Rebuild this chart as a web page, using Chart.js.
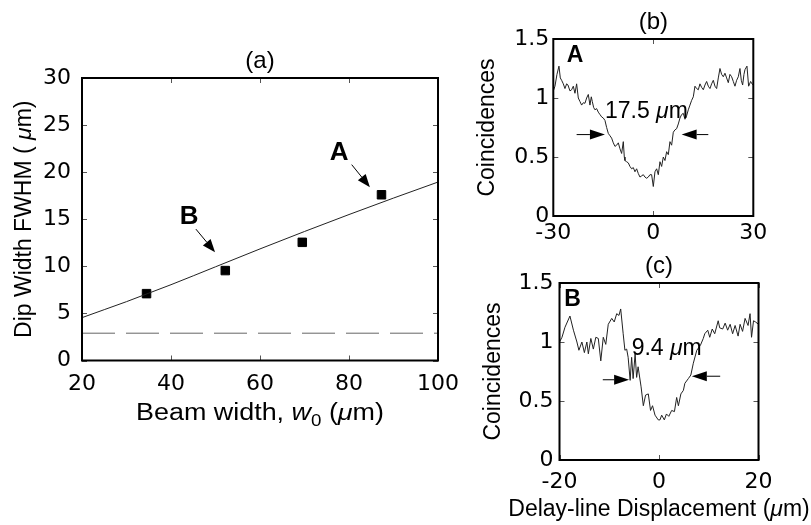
<!DOCTYPE html>
<html><head><meta charset="utf-8">
<script src="https://cdn.jsdelivr.net/npm/chart.js@4.4.1/dist/chart.umd.min.js"></script>
<style>
html,body{margin:0;padding:0;background:#fff;}
#wrap{position:relative;width:811px;height:525px;overflow:hidden;background:#fff;}
canvas{position:absolute;}
</style></head><body>
<div id="wrap">
<canvas id="ca" width="470" height="440" style="left:0;top:0"></canvas>
<canvas id="cb" width="341" height="250" style="left:470px;top:0"></canvas>
<canvas id="cc" width="341" height="275" style="left:470px;top:250px"></canvas>
</div>
<script>
// ---------- data: panel (a) ----------
const beamWidth = [34.5, 52.2, 69.5, 87.3];
const dipWidth  = [7.1, 9.55, 12.55, 17.6];
const fitBeamWidth = [20, 25, 30, 35, 40, 50, 60, 70, 80, 90, 100];
const fitDipWidth  = [4.55, 5.4, 6.25, 7.15, 8.05, 9.95, 11.85, 13.7, 15.5, 17.25, 18.95];
const limitBeamWidth = [20, 100];
const limitDipWidth  = [2.9, 2.9];
const aXTicks = [20, 40, 60, 80, 100];
const aYTicks = [0, 5, 10, 15, 20, 25, 30];

// ---------- data: panel (b), case A ----------
const bDelay = [-30,-29.5,-28.9,-28.3,-27.9,-27.5,-27,-26.5,-26,-25.6,-25,-24.5,-24,-23.5,-23,-22.5,-22,-21.5,-21,-20.5,-20,-19.5,-19,-18.6,-18.3,-17.9,-17.5,-17,-16.5,-16,-15.5,-15,-14.5,-14,-13.5,-13,-12.5,-12,-11.5,-11,-10.5,-10,-9.5,-9,-8.7,-8.5,-8,-7.5,-7,-6.5,-6,-5.5,-5,-4.5,-4,-3.5,-3,-2.5,-2,-1.5,-1,-0.5,0,0.5,1,1.5,2,2.5,3,3.5,4,4.5,5,5.5,6,6.5,7,7.5,8,8.5,9,9.5,10,10.5,11,11.5,12,12.5,13,13.5,14,14.5,15,15.5,16,16.5,17,17.5,18,18.5,19,19.5,20,20.5,21,21.5,22,22.5,23,23.5,24,24.5,25,25.5,26,26.4,26.8,27.2,27.5,28.1,28.6,29.2,29.6,30];
const bCoinc = [1.06,1.10,1.20,1.27,1.17,1.15,1.12,1.08,1.12,1.11,1.06,1.07,1.10,1.04,1.12,1.00,0.97,0.94,0.96,0.955,1.00,1.03,0.94,1.01,0.97,0.92,0.90,0.91,0.88,0.86,0.84,0.83,0.81,0.75,0.70,0.68,0.66,0.62,0.59,0.60,0.62,0.57,0.53,0.63,0.50,0.47,0.46,0.45,0.42,0.40,0.41,0.375,0.40,0.36,0.33,0.34,0.35,0.33,0.32,0.33,0.35,0.35,0.25,0.375,0.40,0.35,0.46,0.42,0.50,0.47,0.545,0.52,0.63,0.60,0.71,0.73,0.74,0.78,0.83,0.86,0.87,0.82,0.85,0.90,0.94,0.98,1.01,1.10,1.08,1.07,1.12,1.09,1.07,1.11,1.14,1.10,1.08,1.12,1.15,1.10,1.08,1.17,1.25,1.20,1.18,1.21,1.17,1.13,1.20,1.18,1.14,1.10,1.15,1.18,1.25,1.15,1.11,1.20,1.24,1.27,1.10,1.14,1.12,1.11];
const bXTicks = [-30, 0, 30];
const bYTicks = [0, 0.5, 1, 1.5];

// ---------- data: panel (c), case B ----------
const cDelay = [-20,-19.5,-18.9,-17.9,-17.2,-16.5,-16.1,-15.5,-15,-14.5,-14.2,-13.7,-13.2,-12.7,-12.2,-11.7,-11.2,-10.7,-10.2,-9.5,-9,-8.5,-8.05,-7.7,-7.2,-6.85,-6.5,-6.2,-5.8,-5.5,-5.2,-4.8,-4.5,-4.2,-3.6,-3.15,-2.7,-2.15,-1.7,-1.3,-0.8,-0.15,0.2,0.54,1.07,1.5,1.97,2.55,3.1,3.55,3.9,4.4,4.9,5.2,5.9,6.4,6.9,7.6,8.3,8.9,9.2,9.8,10.2,10.7,11.2,11.9,12.2,12.8,13.3,13.8,14.3,14.8,15.3,15.9,16.3,16.8,17.3,17.9,18.3,18.6,19,19.4,20];
const cCoinc = [1.00,1.04,1.125,1.22,1.10,1.00,0.93,1.00,0.91,1.00,0.90,1.03,0.94,1.04,1.03,0.84,1.04,0.98,1.15,1.20,1.17,1.24,1.225,1.28,1.07,0.93,0.94,0.87,0.675,0.87,0.69,0.90,0.70,0.79,0.62,0.46,0.55,0.56,0.42,0.46,0.38,0.34,0.34,0.38,0.34,0.39,0.37,0.42,0.41,0.53,0.46,0.56,0.59,0.65,0.69,0.72,0.82,0.93,0.97,1.03,1.07,1.10,1.04,1.11,1.07,1.18,1.12,1.11,1.16,1.10,1.15,1.07,1.14,1.05,1.15,1.09,1.20,1.14,1.24,1.04,1.18,1.17,1.15];
const cXTicks = [-20, 0, 20];
const cYTicks = [0, 0.5, 1, 1.5];

// ---------- annotation texts ----------
const panelTitles = ['(a)', '(b)', '(c)'];
const widthLabelA = '17.5 ';
const widthLabelB = '9.4 ';

const FONT = "'Liberation Sans', Arial, Helvetica, sans-serif";
const TICK_FONT = {family: "'DejaVu Sans', sans-serif", size: 22};
const LABEL_SIZE = 23;

function pts(xs, ys){ return xs.map((x,i)=>({x:x, y:ys[i]})); }

function segFont(s){
  return (s.italic ? 'italic ' : '') + (s.bold ? 'bold ' : '') + (s.size || LABEL_SIZE) + 'px ' + FONT;
}
function drawRich(ctx, segs, x, y, align, rot, sx){
  ctx.save();
  ctx.translate(x, y);
  if (rot) ctx.rotate(rot);
  if (sx) ctx.scale(sx, 1);
  const widths = segs.map(s => { ctx.font = segFont(s); return ctx.measureText(s.t).width; });
  const total = widths.reduce((a,b)=>a+b, 0);
  let cx = align === 'center' ? -total/2 : (align === 'right' ? -total : 0);
  ctx.textAlign = 'left';
  ctx.textBaseline = 'alphabetic';
  ctx.fillStyle = '#000';
  segs.forEach((s,i) => { ctx.font = segFont(s); ctx.fillText(s.t, cx, s.dy || 0); cx += widths[i]; });
  ctx.restore();
}
function drawArrow(ctx, x1, y1, x2, y2, len, hw){
  const a = Math.atan2(y2-y1, x2-x1);
  const bx = x2 - len*Math.cos(a), by = y2 - len*Math.sin(a);
  ctx.save();
  ctx.strokeStyle = '#000'; ctx.fillStyle = '#000'; ctx.lineWidth = 1;
  ctx.beginPath(); ctx.moveTo(x1, y1); ctx.lineTo(bx, by); ctx.stroke();
  ctx.beginPath();
  ctx.moveTo(x2, y2);
  ctx.lineTo(bx + hw*Math.sin(a), by - hw*Math.cos(a));
  ctx.lineTo(bx - hw*Math.sin(a), by + hw*Math.cos(a));
  ctx.closePath(); ctx.fill();
  ctx.restore();
}

// decoration plugin: box frame, inward ticks, title, annotations
function decor(cfg){
  return {
    id: 'decor',
    afterDraw(chart){
      const ctx = chart.ctx, ca = chart.chartArea;
      const xs = chart.scales.x, ys = chart.scales.y;
      ctx.save();
      ctx.strokeStyle = '#555'; ctx.lineWidth = 1;
      xs.ticks.forEach(t => {
        const p = Math.round(xs.getPixelForValue(t.value)) + 0.5;
        ctx.beginPath();
        ctx.moveTo(p, ca.bottom); ctx.lineTo(p, ca.bottom - 5);
        ctx.moveTo(p, ca.top); ctx.lineTo(p, ca.top + 5);
        ctx.stroke();
      });
      ys.ticks.forEach(t => {
        const p = Math.round(ys.getPixelForValue(t.value)) + 0.5;
        ctx.beginPath();
        ctx.moveTo(ca.left, p); ctx.lineTo(ca.left + 5, p);
        ctx.moveTo(ca.right, p); ctx.lineTo(ca.right - 5, p);
        ctx.stroke();
      });
      ctx.strokeStyle = '#000'; ctx.lineWidth = 2;
      ctx.strokeRect(ca.left, ca.top, ca.right - ca.left, ca.bottom - ca.top);
      ctx.restore();
      drawRich(ctx, [{t: cfg.title, size: 24}], (ca.left + ca.right)/2, ca.top - 10, 'center');
      (cfg.arrows || []).forEach(a => {
        drawArrow(ctx, xs.getPixelForValue(a[0]), ys.getPixelForValue(a[1]),
                       xs.getPixelForValue(a[2]), ys.getPixelForValue(a[3]), a[4], a[5]);
      });
      (cfg.texts || []).forEach(tx => {
        drawRich(ctx, tx.segs, xs.getPixelForValue(tx.x), ys.getPixelForValue(tx.y), tx.align || 'left', tx.rot || 0);
      });
      if (cfg.extra) cfg.extra(chart);
    }
  };
}

function fixW(w){ return s => { s.width = w; }; }
function fixH(h){ return s => { s.height = h; }; }
function yTickCb(v){ return String(v); }
const GRID = {display: false, drawTicks: false};

const common = {
  responsive: false,
  animation: false,
  events: [],
  plugins: { legend: {display: false}, title: {display: false}, tooltip: {enabled: false} }
};

// ---------- panel (a) ----------
new Chart(document.getElementById('ca'), {
  type: 'scatter',
  data: {
    datasets: [
      { type: 'line', data: pts(limitBeamWidth, limitDipWidth), borderColor: '#666', borderWidth: 1,
        borderDash: [33, 11], pointRadius: 0, fill: false },
      { type: 'line', data: pts(fitBeamWidth, fitDipWidth), borderColor: '#222', borderWidth: 1,
        pointRadius: 0, fill: false, cubicInterpolationMode: 'monotone' },
      { type: 'scatter', data: pts(beamWidth, dipWidth), pointStyle: 'rect', pointRadius: 6,
        backgroundColor: '#000', borderColor: '#000', borderWidth: 1 }
    ]
  },
  options: Object.assign({}, common, {
    layout: { padding: { top: 78, right: 29, left: 0, bottom: 0 } },
    scales: {
      x: { type: 'linear', min: 20, max: 100, afterFit: fixH(440 - 360.5),
           afterBuildTicks: s => { s.ticks = aXTicks.map(v => ({value: v})); },
           grid: GRID, border: {display: false},
           ticks: { font: TICK_FONT, color: '#000', padding: 11, maxRotation: 0 } },
      y: { type: 'linear', min: 0, max: 30, afterFit: fixW(82),
           afterBuildTicks: s => { s.ticks = aYTicks.map(v => ({value: v})); },
           grid: GRID, border: {display: false},
           ticks: { font: TICK_FONT, color: '#000', padding: 11, callback: yTickCb } }
    }
  }),
  plugins: [decor({
    title: panelTitles[0],
    arrows: [[80.6, 20.8, 84.7, 18.4, 13, 5], [45.6, 13.95, 49.9, 11.5, 13, 5]],
    texts: [
      { x: 77.8, y: 21.3, align: 'center', segs: [{t: 'A', bold: true, size: 26}] },
      { x: 44.1, y: 14.5, align: 'center', segs: [{t: 'B', bold: true, size: 26}] }
    ],
    extra: chart => {
      const ctx = chart.ctx, ca = chart.chartArea;
      drawRich(ctx, [{t: 'Beam width, '}, {t: 'w', italic: true}, {t: '0', size: 16, dy: 6},
                     {t: ' ('}, {t: 'μ', italic: true}, {t: 'm)'}],
               (ca.left + ca.right)/2, 420, 'center', 0, 1.17);
      drawRich(ctx, [{t: 'Dip Width FWHM ( '}, {t: 'μ', italic: true}, {t: 'm)'}],
               31, (ca.top + ca.bottom)/2, 'center', -Math.PI/2);
    }
  })]
});

// ---------- panel (b) ----------
new Chart(document.getElementById('cb'), {
  type: 'line',
  data: { datasets: [ { data: pts(bDelay, bCoinc), borderColor: '#222', borderWidth: 1, pointRadius: 0, fill: false } ] },
  options: Object.assign({}, common, {
    layout: { padding: { top: 39, right: 57.7, left: 0, bottom: 0 } },
    scales: {
      x: { type: 'linear', min: -30, max: 30, afterFit: fixH(250 - 216),
           afterBuildTicks: s => { s.ticks = bXTicks.map(v => ({value: v})); },
           grid: GRID, border: {display: false},
           ticks: { font: TICK_FONT, color: '#000', padding: 4, maxRotation: 0 } },
      y: { type: 'linear', min: 0, max: 1.5, afterFit: fixW(83.3),
           afterBuildTicks: s => { s.ticks = bYTicks.map(v => ({value: v})); },
           grid: GRID, border: {display: false},
           title: { display: true, text: 'Coincidences', color: '#000', font: {family: FONT, size: LABEL_SIZE}, padding: {top: 4, bottom: 0} },
           ticks: { font: TICK_FONT, color: '#000', padding: 4, callback: yTickCb } }
    }
  }),
  plugins: [decor({
    title: panelTitles[1],
    arrows: [[-23, 0.69, -14.5, 0.69, 15, 5], [16.5, 0.69, 8.5, 0.69, 15, 5]],
    texts: [
      { x: -23.5, y: 1.305, align: 'center', segs: [{t: 'A', bold: true, size: 23}] },
      { x: -14.5, y: 0.83, align: 'left', segs: [{t: widthLabelA}, {t: 'μ', italic: true}, {t: 'm'}] }
    ]
  })]
});

// ---------- panel (c) ----------
new Chart(document.getElementById('cc'), {
  type: 'line',
  data: { datasets: [ { data: pts(cDelay, cCoinc), borderColor: '#222', borderWidth: 1, pointRadius: 0, fill: false } ] },
  options: Object.assign({}, common, {
    layout: { padding: { top: 33, right: 52.5, left: 0, bottom: 0 } },
    scales: {
      x: { type: 'linear', min: -20, max: 20, afterFit: fixH(275 - 210),
           afterBuildTicks: s => { s.ticks = cXTicks.map(v => ({value: v})); },
           grid: GRID, border: {display: false},
           ticks: { font: TICK_FONT, color: '#000', padding: 9, maxRotation: 0 } },
      y: { type: 'linear', min: 0, max: 1.5, afterFit: fixW(89.5),
           afterBuildTicks: s => { s.ticks = cYTicks.map(v => ({value: v})); },
           grid: GRID, border: {display: false},
           title: { display: true, text: 'Coincidences', color: '#000', font: {family: FONT, size: LABEL_SIZE}, padding: {top: 10, bottom: 0} },
           ticks: { font: TICK_FONT, color: '#000', padding: 6, callback: yTickCb } }
    }
  }),
  plugins: [decor({
    title: panelTitles[2],
    arrows: [[-11.3, 0.68, -6.0, 0.68, 15, 5], [12.3, 0.71, 6.6, 0.71, 15, 5]],
    texts: [
      { x: -17.4, y: 1.305, align: 'center', segs: [{t: 'B', bold: true, size: 23}] },
      { x: -5.5, y: 0.89, align: 'left', segs: [{t: widthLabelB}, {t: 'μ', italic: true}, {t: 'm'}] }
    ],
    extra: chart => {
      const ctx = chart.ctx, ca = chart.chartArea;
      drawRich(ctx, [{t: 'Delay-line Displacement ('}, {t: 'μ', italic: true}, {t: 'm)'}],
               (ca.left + ca.right)/2, 266, 'center');
    }
  })]
});
</script>
</body></html>
